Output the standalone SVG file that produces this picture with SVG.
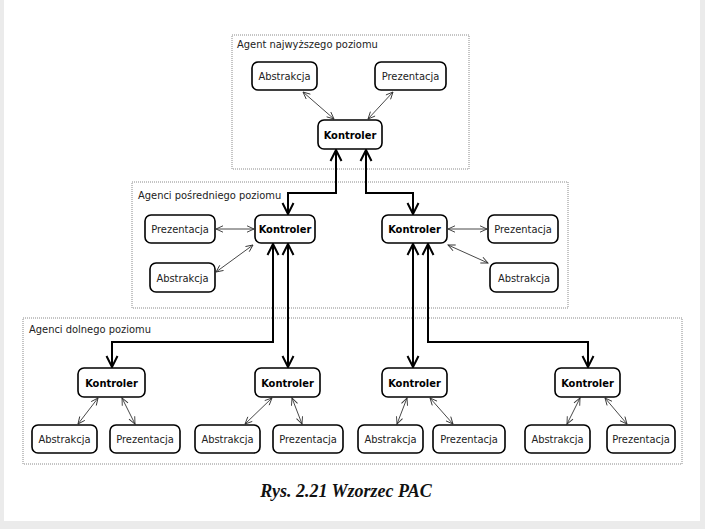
<svg xmlns="http://www.w3.org/2000/svg" width="705" height="529" viewBox="0 0 705 529">
<style>
.box{fill:#fff;stroke:#000;stroke-width:1.6}
.grp{fill:none;stroke:#8a8a8a;stroke-width:1;stroke-dasharray:1,1}
.t{font-family:"DejaVu Sans Condensed","DejaVu Sans",sans-serif;font-size:11px;fill:#222;text-anchor:middle}
.b{font-family:"DejaVu Sans Condensed","DejaVu Sans",sans-serif;font-size:11px;font-weight:bold;fill:#000;text-anchor:middle}
.gl{font-family:"DejaVu Sans Condensed","DejaVu Sans",sans-serif;font-size:11px;fill:#222}
.thin{fill:none;stroke:#333;stroke-width:0.9;marker-start:url(#ah);marker-end:url(#ah)}
.thick{fill:none;stroke:#000;stroke-width:2;marker-start:url(#bh);marker-end:url(#bh)}
.cap{font-family:"Liberation Serif","Times New Roman",serif;font-size:18px;font-weight:bold;font-style:italic;fill:#111;text-anchor:middle}
</style>
<defs>
<marker id="ah" viewBox="-9 -4 10 8" refX="0" refY="0" markerWidth="10" markerHeight="8" markerUnits="userSpaceOnUse" orient="auto-start-reverse">
<path d="M-7,-3.2 L0,0 L-7,3.2" fill="none" stroke="#333" stroke-width="0.9"/>
</marker>
<marker id="bh" viewBox="-13 -7 14 14" refX="0" refY="0" markerWidth="14" markerHeight="14" markerUnits="userSpaceOnUse" orient="auto-start-reverse">
<path d="M-11,-5.5 L0,0 L-11,5.5" fill="none" stroke="#000" stroke-width="2"/>
</marker>
</defs>
<rect x="0" y="0" width="705" height="529" fill="#ebebeb"/>
<rect x="4" y="0" width="696" height="521" fill="#fff"/>

<g id="groups">
<rect class="grp" x="232" y="35" width="237" height="134"/>
<text class="gl" x="237" y="48">Agent najwyższego poziomu</text>
<rect class="grp" x="132" y="182" width="436" height="126"/>
<text class="gl" x="138" y="199">Agenci pośredniego poziomu</text>
<rect class="grp" x="23" y="318" width="659" height="146"/>
<text class="gl" x="29" y="333">Agenci dolnego poziomu</text>
</g>

<g id="connectors">
<path class="thin" d="M303,92 L334,119"/>
<path class="thin" d="M393,92 L368,119"/>
<path class="thin" d="M216,229 L254,229"/>
<path class="thin" d="M216,272 L253,245"/>
<path class="thin" d="M448,229 L487,229"/>
<path class="thin" d="M448,245 L488,263"/>
<path class="thin" d="M98,398 L78,424"/>
<path class="thin" d="M122,398 L135,424"/>
<path class="thin" d="M272,398 L245,424"/>
<path class="thin" d="M292,398 L302,424"/>
<path class="thin" d="M407,398 L397,424"/>
<path class="thin" d="M430,398 L453,424"/>
<path class="thin" d="M580,398 L567,424"/>
<path class="thin" d="M605,398 L627,424"/>
<path class="thick" d="M336,150 V193 H288 V214"/>
<path class="thick" d="M366,150 V193 H413 V214"/>
<path class="thick" d="M273,244 V342 H112 V367"/>
<path class="thick" d="M288,244 V367"/>
<path class="thick" d="M413,244 V367"/>
<path class="thick" d="M428,244 V342 H588 V367"/>
</g>

<g id="top-abstrakcja"><rect class="box" x="252" y="62" width="65" height="28" rx="6"/><text class="t" x="284.5" y="80">Abstrakcja</text></g>
<g id="top-prezentacja"><rect class="box" x="375" y="62" width="71" height="28" rx="6"/><text class="t" x="410.5" y="80">Prezentacja</text></g>
<g id="top-kontroler"><rect class="box" x="318" y="120" width="64" height="29" rx="6"/><text class="b" x="350" y="138.5">Kontroler</text></g>

<g id="mid-l-prezentacja"><rect class="box" x="145" y="215" width="70" height="28" rx="6"/><text class="t" x="180" y="233">Prezentacja</text></g>
<g id="mid-l-abstrakcja"><rect class="box" x="150" y="263" width="65" height="29" rx="6"/><text class="t" x="182.5" y="281.5">Abstrakcja</text></g>
<g id="mid-l-kontroler"><rect class="box" x="255" y="215" width="60" height="28" rx="6"/><text class="b" x="285" y="233">Kontroler</text></g>
<g id="mid-r-kontroler"><rect class="box" x="382" y="215" width="65" height="28" rx="6"/><text class="b" x="414.5" y="233">Kontroler</text></g>
<g id="mid-r-prezentacja"><rect class="box" x="488" y="215" width="70" height="28" rx="6"/><text class="t" x="523" y="233">Prezentacja</text></g>
<g id="mid-r-abstrakcja"><rect class="box" x="490" y="263" width="68" height="29" rx="6"/><text class="t" x="524" y="281.5">Abstrakcja</text></g>

<g id="k1"><rect class="box" x="78" y="368" width="67" height="29" rx="6"/><text class="b" x="111.5" y="386.5">Kontroler</text></g>
<g id="k2"><rect class="box" x="255" y="368" width="65" height="29" rx="6"/><text class="b" x="287.5" y="386.5">Kontroler</text></g>
<g id="k3"><rect class="box" x="382" y="368" width="65" height="29" rx="6"/><text class="b" x="414.5" y="386.5">Kontroler</text></g>
<g id="k4"><rect class="box" x="555" y="368" width="65" height="29" rx="6"/><text class="b" x="587.5" y="386.5">Kontroler</text></g>

<g id="a1"><rect class="box" x="32" y="425" width="65" height="28" rx="6"/><text class="t" x="64.5" y="443">Abstrakcja</text></g>
<g id="p1"><rect class="box" x="110" y="425" width="70" height="28" rx="6"/><text class="t" x="145" y="443">Prezentacja</text></g>
<g id="a2"><rect class="box" x="195" y="425" width="65" height="28" rx="6"/><text class="t" x="227.5" y="443">Abstrakcja</text></g>
<g id="p2"><rect class="box" x="273" y="425" width="70" height="28" rx="6"/><text class="t" x="308" y="443">Prezentacja</text></g>
<g id="a3"><rect class="box" x="358" y="425" width="65" height="28" rx="6"/><text class="t" x="390.5" y="443">Abstrakcja</text></g>
<g id="p3"><rect class="box" x="433" y="425" width="72" height="28" rx="6"/><text class="t" x="469" y="443">Prezentacja</text></g>
<g id="a4"><rect class="box" x="525" y="425" width="65" height="28" rx="6"/><text class="t" x="557.5" y="443">Abstrakcja</text></g>
<g id="p4"><rect class="box" x="607" y="425" width="68" height="28" rx="6"/><text class="t" x="641" y="443">Prezentacja</text></g>

<text class="cap" x="346" y="497">Rys. 2.21 Wzorzec PAC</text>
</svg>
